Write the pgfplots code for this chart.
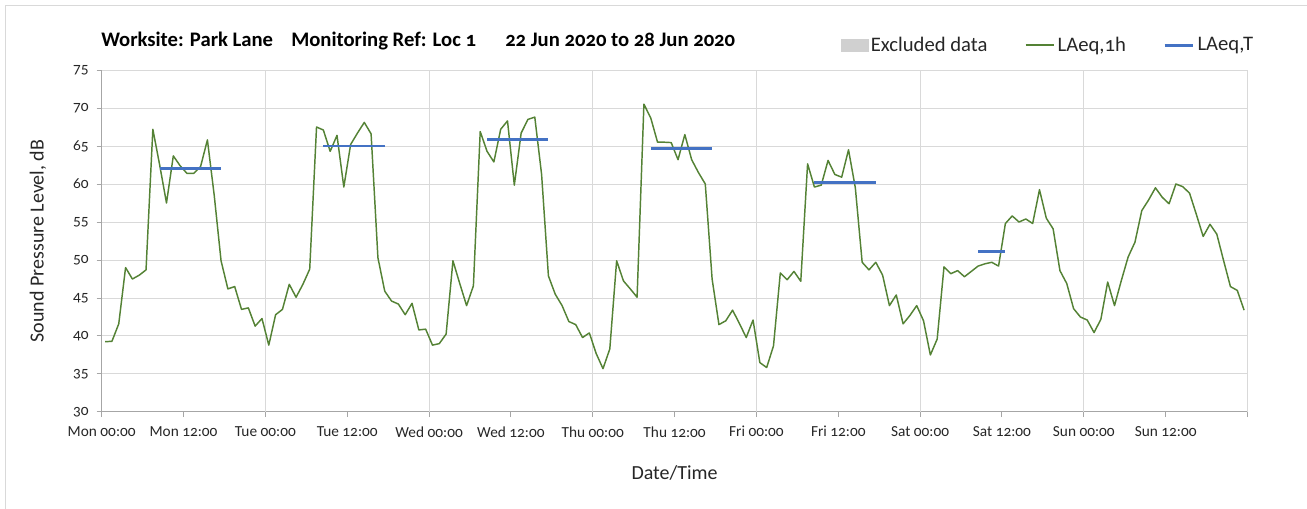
\documentclass[border=0pt]{standalone}
\usepackage{pgfplots}
\pgfplotsset{compat=1.18}
\usepackage{pgfplotstable}
\usepackage{fontspec}
\setmainfont{Carlito}[Numbers=OldStyle]
\definecolor{lgreen}{HTML}{548235}
\definecolor{lblue}{HTML}{4472C4}
\definecolor{gridc}{HTML}{D9D9D9}
\definecolor{axc}{HTML}{A6A6A6}
\definecolor{txt}{HTML}{262626}
\definecolor{excl}{HTML}{D0D0D0}
\pgfplotstableread{
i v
0 39.25
1 39.3
2 41.6
3 49.0
4 47.5
5 48.0
6 48.7
7 67.2
8 62.5
9 57.5
10 63.7
11 62.4
12 61.4
13 61.4
14 62.3
15 65.8
16 58.5
17 49.9
18 46.2
19 46.5
20 43.5
21 43.7
22 41.3
23 42.3
24 38.8
25 42.8
26 43.5
27 46.8
28 45.1
29 46.8
30 48.8
31 67.5
32 67.1
33 64.3
34 66.4
35 59.6
36 65.2
37 66.7
38 68.1
39 66.6
40 50.3
41 45.9
42 44.6
43 44.2
44 42.8
45 44.3
46 40.8
47 40.9
48 38.8
49 39.0
50 40.25
51 49.9
52 46.9
53 44.0
54 46.6
55 66.9
56 64.3
57 62.9
58 67.2
59 68.3
60 59.85
61 66.7
62 68.5
63 68.8
64 61.25
65 47.9
66 45.5
67 44.0
68 41.9
69 41.5
70 39.8
71 40.4
72 37.7
73 35.7
74 38.3
75 49.9
76 47.25
77 46.2
78 45.1
79 70.5
80 68.7
81 65.5
82 65.5
83 65.45
84 63.2
85 66.5
86 63.2
87 61.5
88 60.0
89 47.5
90 41.5
91 42.0
92 43.4
93 41.65
94 39.8
95 42.1
96 36.5
97 35.85
98 38.7
99 48.3
100 47.4
101 48.5
102 47.2
103 62.65
104 59.6
105 59.85
106 63.1
107 61.25
108 60.9
109 64.5
110 59.5
111 49.7
112 48.7
113 49.7
114 48.0
115 44.0
116 45.4
117 41.6
118 42.7
119 44.0
120 42.0
121 37.5
122 39.6
123 49.1
124 48.2
125 48.6
126 47.8
127 48.5
128 49.2
129 49.5
130 49.7
131 49.2
132 54.8
133 55.8
134 55.0
135 55.4
136 54.8
137 59.25
138 55.5
139 54.1
140 48.6
141 46.9
142 43.6
143 42.5
144 42.1
145 40.45
146 42.2
147 47.1
148 44.0
149 47.3
150 50.4
151 52.35
152 56.5
153 57.9
154 59.5
155 58.25
156 57.4
157 60.0
158 59.65
159 58.8
160 56.0
161 53.1
162 54.7
163 53.4
164 49.9
165 46.5
166 46.0
167 43.4
}\hourly
\pgfplotstableread{
x y
8.5 62.1
17.5 62.1
nan nan
32.5 65.0
41.5 65.0
nan nan
56.5 65.8
65.5 65.8
nan nan
80.5 64.7
89.5 64.7
nan nan
104.5 60.15
113.5 60.15
nan nan
128.5 51.1
132.5 51.1
}\period
\begin{document}
\begin{tikzpicture}[x=0.75pt,y=-0.75pt]
\useasboundingbox (0,0) rectangle (1307,509);
\draw[gridc, line width=0.75pt] (5,509) -- (5,6) -- (1307,6);
\begin{scope}[every node/.style={anchor=base west, font=\fontsize{15.5}{18}\selectfont\bfseries, text=black, inner sep=0pt}]
\node at (101,47) {Worksite: Park Lane};
\node at (291,47) {Monitoring Ref: Loc 1};
\node at (505,47) {22 Jun 2020 to 28 Jun 2020};
\end{scope}
\begin{axis}[
  at={(76.275pt,-309pt)}, anchor=south west,
  scale only axis, width=859.35pt, height=256.5pt,
  xmin=0, xmax=168, ymin=30, ymax=75,
  xtick={0,12,...,168},
  xticklabels={Mon 00:00,Mon 12:00,Tue 00:00,Tue 12:00,Wed 00:00,Wed 12:00,Thu 00:00,Thu 12:00,Fri 00:00,Fri 12:00,Sat 00:00,Sat 12:00,Sun 00:00,Sun 12:00,{}},
  extra x ticks={24,48,...,168},
  extra x tick labels={},
  extra x tick style={grid=major, major tick length=0pt},
  ytick={30,35,...,75},
  ymajorgrids,
  grid style={gridc, line width=0.75pt},
  axis x line*=bottom, axis y line*=left,
  axis line style={axc, line width=0.75pt, -},
  tick style={axc, line width=0.75pt},
  tick align=outside, major tick length=3.75pt,
  /pgf/number format/assume math mode=true,
  xticklabel style={font=\fontsize{11.5}{13}\selectfont, text=txt, yshift=-3.5pt},
  yticklabel style={font=\fontsize{11.5}{13}\selectfont, text=txt, xshift=-2.5pt},
  xlabel={Date/Time}, ylabel={Sound Pressure Level, dB},
  label style={font=\fontsize{15}{18}\selectfont, text=txt},
  x label style={at={(axis description cs:0.5,0)}, anchor=center, yshift=-45.75pt},
  y label style={at={(axis description cs:0,0.5)}, anchor=center, rotate=0, yshift=47.8pt},
  unbounded coords=jump,
  legend image code/.code={\draw[#1] (0pt,0pt) -- (21.5pt,0pt);},
  legend style={at={(rel axis cs:1.011,1.073)}, anchor=east, draw=none, fill=none,
    legend columns=3, font=\fontsize{15.5}{18}\selectfont, text=txt,
    /tikz/every even column/.append style={column sep=26pt}},
  legend cell align=left,
]
\addlegendimage{legend image code/.code={\fill[excl] (-2pt,-4.5pt) rectangle (18pt,4.5pt);}}
\addlegendentry{Excluded data}
\addplot[lgreen, line width=1.1pt, line join=round, no markers]
  table[x expr=\thisrow{i}+0.5, y=v] {\hourly};
\addlegendentry{LAeq,1h}
\addplot[lblue, line width=2.2pt, no markers]
  table[x=x, y=y] {\period};
\addlegendentry{LAeq,T}
\end{axis}
\end{tikzpicture}
\end{document}
